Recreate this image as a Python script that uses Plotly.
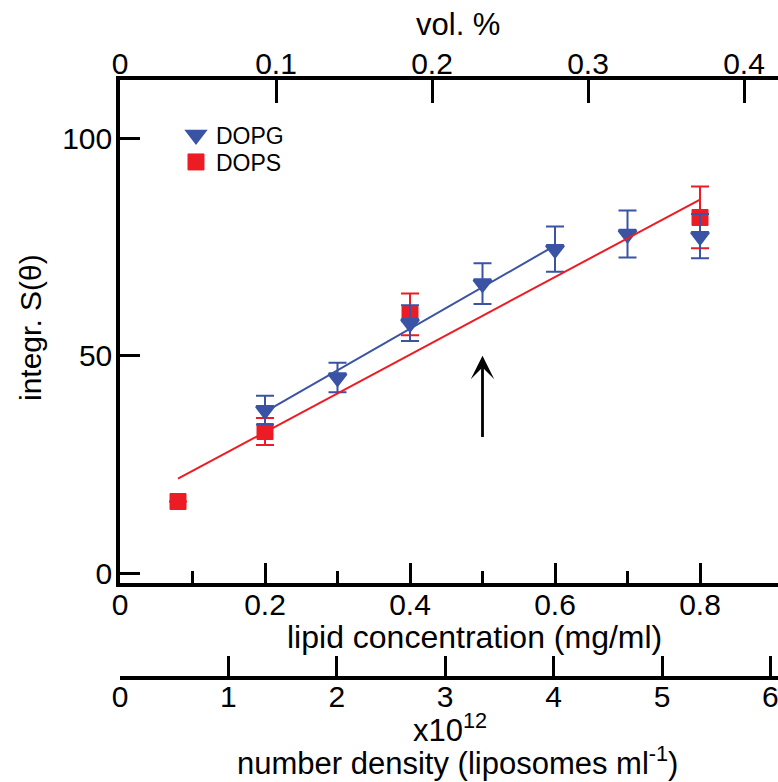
import numpy as np
import plotly.graph_objects as go

# ---- data ----
conc_dopg = [0.2, 0.3, 0.4, 0.5, 0.6, 0.7, 0.8]
s_dopg = [37.5, 45.0, 57.5, 66.6, 74.5, 78.0, 77.5]
err_dopg = [3.3, 3.4, 4.1, 4.7, 5.2, 5.4, 5.1]

conc_dops = [0.08, 0.2, 0.4, 0.8]
s_dops = [16.5, 32.6, 59.5, 81.8]
err_dops = [None, 3.1, 4.8, 7.1]

fit_n_dopg = 5  # DOPG fit uses points 0.2 - 0.6

x_ticks = [0, 0.2, 0.4, 0.6, 0.8]
x_minor = [0.1, 0.3, 0.5, 0.7]
y_ticks = [0, 50, 100]
vol_ticks = [0, 0.1, 0.2, 0.3, 0.4]
dens_ticks = [0, 1, 2, 3, 4, 5, 6]

arrow_x = 0.5
arrow_y = [31, 50]

BLUE = "#3A53A4"
RED = "#ED1C24"
FONT = "Liberation Sans, Arial, sans-serif"

# fits
p_dops = np.polyfit(conc_dops, s_dops, 1)
fx_dops = np.array([conc_dops[0], conc_dops[-1]])
fy_dops = np.polyval(p_dops, fx_dops)
p_dopg = np.polyfit(conc_dopg[:fit_n_dopg], s_dopg[:fit_n_dopg], 1)
fx_dopg = np.array([conc_dopg[0], conc_dopg[fit_n_dopg - 1]])
fy_dopg = np.polyval(p_dopg, fx_dopg)

W, H = 778, 782
L, T, B = 120, 80, 104
plot_bottom = 583
ydom0 = (H - B - plot_bottom) / (H - B - T)


def px_to_paper_y(py):
    return (H - B - py) / (H - B - T)


def px_to_paper_x(px):
    return (px - L) / (W - L)


fig = go.Figure()
# helper empty traces so that the extra axes are drawn
fig.add_trace(go.Scatter(x=[], y=[], xaxis="x2", yaxis="y", showlegend=False, hoverinfo="skip"))
fig.add_trace(go.Scatter(x=[], y=[], xaxis="x3", yaxis="y", showlegend=False, hoverinfo="skip"))

fig.add_trace(go.Scatter(
    x=conc_dops, y=s_dops, mode="markers", name="DOPS", legend="legend2",
    marker=dict(symbol="square", size=16, color=RED, line=dict(color=RED, width=1)),
    error_y=dict(type="data", array=err_dops, color=RED, thickness=2, width=9),
))
fig.add_trace(go.Scatter(
    x=conc_dopg, y=s_dopg, mode="markers", name="DOPG", legend="legend",
    marker=dict(symbol="triangle-down", size=15, color=BLUE, line=dict(color=BLUE, width=3)),
    error_y=dict(type="data", array=err_dopg, color=BLUE, thickness=2, width=9),
))
fig.add_trace(go.Scatter(x=fx_dopg, y=fy_dopg, mode="lines", line=dict(color=BLUE, width=2), showlegend=False))
fig.add_trace(go.Scatter(x=fx_dops, y=fy_dops, mode="lines", line=dict(color=RED, width=2), showlegend=False))

x_px = 72.5 / 0.1
xr = (W - L) / x_px
y_px = 4.35
y0 = -(plot_bottom - 573.3) / y_px
y1 = 100 + (138.3 - T) / y_px

axis_common = dict(showgrid=False, zeroline=False, showline=True, linecolor="black", linewidth=3.5,
                   ticks="inside", tickcolor="black", tickwidth=3, ticklabeloverflow="allow",
                   tickfont=dict(family=FONT, size=30, color="black"))

leg_common = dict(xanchor="left", yanchor="middle", font=dict(family=FONT, size=23, color="black"),
                  bgcolor="rgba(0,0,0,0)", itemsizing="trace")

fig.update_layout(
    width=W, height=H,
    margin=dict(l=L, r=0, t=T, b=B, pad=0),
    paper_bgcolor="white", plot_bgcolor="white",
    font=dict(family=FONT, color="black"),
    showlegend=True,
    legend=dict(x=px_to_paper_x(176), y=px_to_paper_y(135), **leg_common),
    legend2=dict(x=px_to_paper_x(176), y=px_to_paper_y(162), **leg_common),
    xaxis=dict(range=[0, xr], tickvals=x_ticks, ticktext=[f"{v:g}" for v in x_ticks], ticklen=20,
               minor=dict(tickvals=x_minor, ticklen=12, tickwidth=3, ticks="inside", tickcolor="black"),
               anchor="y", ticklabelstandoff=-8, **axis_common),
    xaxis2=dict(range=[0, (W - L) / 1560.0], tickvals=vol_ticks, ticktext=[f"{v:g}" for v in vol_ticks],
                ticklen=23, overlaying="x", side="top", anchor="y", ticklabelstandoff=-10, **axis_common),
    xaxis3=dict(range=[0, (W - L) / 108.4], tickvals=dens_ticks, ticklen=20, overlaying="x",
                anchor="free", position=0, side="bottom", ticklabelstandoff=-9, **axis_common),
    yaxis=dict(range=[y0, y1], domain=[ydom0, 1], tickvals=y_ticks, ticklen=20, anchor="x",
               ticklabelstandoff=-2, **axis_common),
)

ann = [
    dict(text="lipid concentration (mg/ml)", x=px_to_paper_x(474), y=px_to_paper_y(637), size=32),
    dict(text="vol. %", x=px_to_paper_x(458), y=px_to_paper_y(25), size=31),
    dict(text="x10<sup>12</sup>", x=px_to_paper_x(450), y=px_to_paper_y(728), size=31),
    dict(text="number density (liposomes ml<sup>-1</sup>)", x=px_to_paper_x(457), y=px_to_paper_y(761), size=31),
]
for a in ann:
    fig.add_annotation(text=a["text"], x=a["x"], y=a["y"], xref="paper", yref="paper",
                       xanchor="center", yanchor="middle", showarrow=False,
                       font=dict(family=FONT, size=a["size"], color="black"))
fig.add_annotation(text="integr. S(θ)", x=px_to_paper_x(30), y=px_to_paper_y(328), xref="paper", yref="paper",
                   xanchor="center", yanchor="middle", showarrow=False, textangle=-90,
                   font=dict(family=FONT, size=30, color="black"))

fig.add_annotation(x=arrow_x, y=arrow_y[1], ax=arrow_x, ay=arrow_y[0], xref="x", yref="y",
                   axref="x", ayref="y", showarrow=True, arrowhead=3, arrowsize=1.4, arrowwidth=2.8,
                   arrowcolor="black", text="", standoff=0, startstandoff=0)

fig.write_html("out.html")
